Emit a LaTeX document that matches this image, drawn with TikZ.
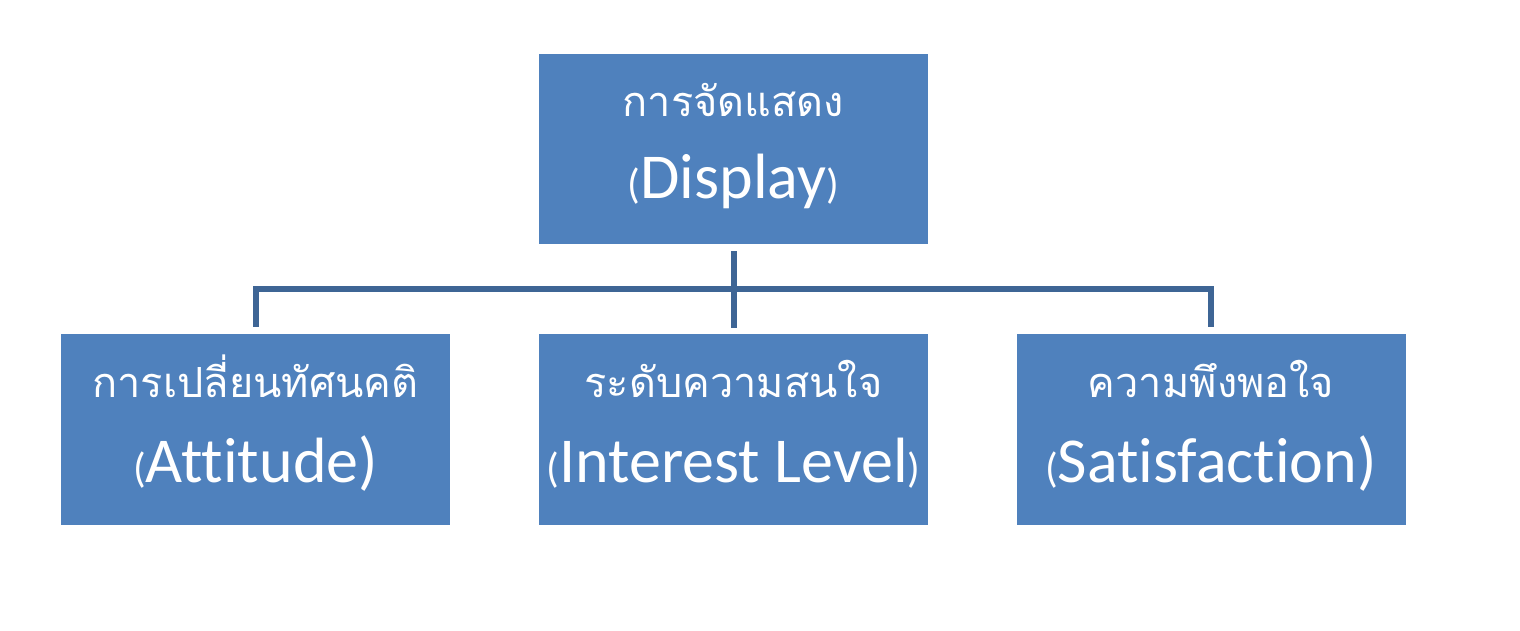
\documentclass[tikz,border=0pt]{standalone}
\usepackage{fontspec}
\setmainfont[Ligatures=NoCommon]{Carlito}
\newfontfamily\thaifont[Script=Thai]{Loma}
\definecolor{boxblue}{HTML}{4F81BD}
\definecolor{linkblue}{HTML}{3E6595}
\newcommand{\smp}[1]{{\fontsize{42}{42}\selectfont #1}}
\begin{document}
\begin{tikzpicture}[x=1pt,y=-1pt,
  box/.style={rectangle, fill=boxblue, draw=none, inner sep=0pt, minimum width=389pt, minimum height=191pt},
  thtext/.style={anchor=base, inner sep=0pt, text=white, font=\thaifont\fontsize{41.5}{42}\selectfont},
  latext/.style={anchor=base, inner sep=0pt, text=white, font=\fontsize{64}{64}\selectfont},
  link/.style={draw=linkblue, line width=6pt, line join=miter}]
\useasboundingbox (0,0) rectangle (1520,631);
\fill[white] (0,0) rectangle (1520,631);
\node[box, minimum height=190pt] (disp) at (733.5,149) {};
\node[box] (att) at (255.5,429.5) {};
\node[box] (int) at (733.5,429.5) {};
\node[box] (sat) at (1211,429.5) {};
\node[thtext] (dispth) at (733.5,117) {การจัดแสดง};
\node[latext] (displa) at (733.5,199) {\smp{(}Display\smp{)}};
\node[thtext] (attth) at (255.5,397) {การเปลี่ยนทัศนคติ};
\node[latext] (attla) at (255.5,482) {\smp{(}Attitude)};
\node[thtext] (intth) at (733.5,397) {ระดับความสนใจ};
\node[latext] (intla) at (733.5,482) {\smp{(}Interest Level\smp{)}};
\node[thtext] (satth) at (1211,397) {ความพึงพอใจ};
\node[latext] (satla) at (1211,482) {\smp{(}Satisfaction)};
\coordinate (hub) at (733.5,289);
\coordinate (topend) at (733.5,251);
\coordinate (leftc) at (256,289);
\coordinate (rightc) at (1211,289);
\draw[link] (topend) -- (int.north |- 0,328);
\draw[link] (att.north -| leftc) ++(0,-7) -- (leftc) -- (rightc) -- ++(0,38);
\end{tikzpicture}
\end{document}
